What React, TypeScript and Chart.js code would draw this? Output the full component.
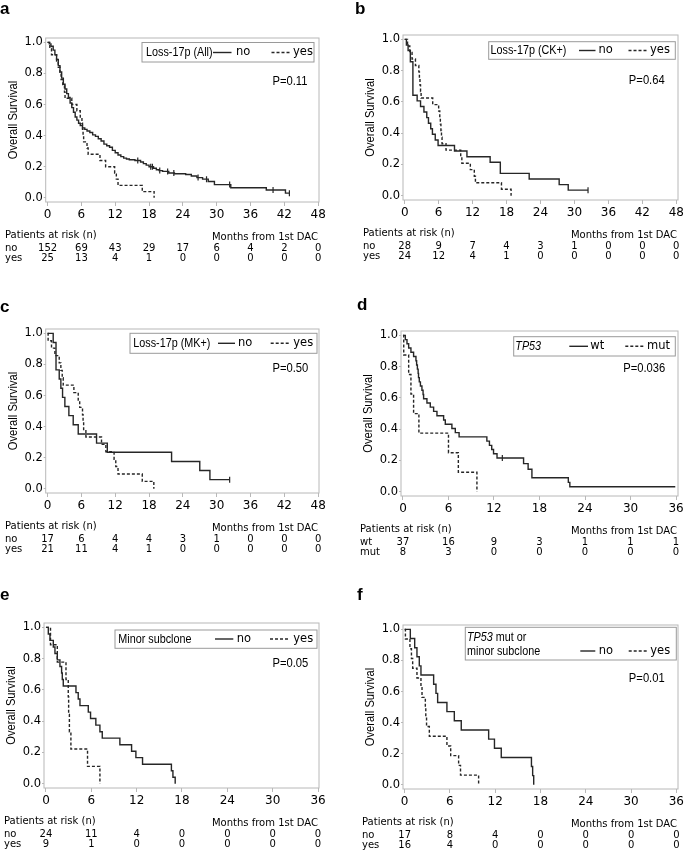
import React, { useEffect, useRef } from "react";
import { Chart, registerables } from "chart.js";
Chart.register(...registerables);

// ---------------- DATA ----------------
const ticks48 = [0, 6, 12, 18, 24, 30, 36, 42, 48];
const ticks36 = [0, 6, 12, 18, 24, 30, 36];
const yTicks = [0, 0.2, 0.4, 0.6, 0.8, 1.0];

// Panel a: Loss-17p (All)
const aNoT = [0, 0.3, 0.6, 1.0, 1.3, 1.6, 1.9, 2.2, 2.5, 2.8, 3.1, 3.4, 3.7, 4.0, 4.3, 4.6, 4.9, 5.2, 5.5, 5.8, 6.2, 6.6, 7.0, 7.5, 8.0, 8.5, 9.0, 9.5, 10.0, 10.5, 11.0, 11.5, 12.0, 12.5, 13.0, 13.5, 14.0, 14.5, 15.5, 16.5, 17.0, 17.5, 18.0, 18.8, 19.3, 19.8, 20.4, 21.5, 22.5, 24.5, 25.5, 26.5, 27.5, 28.5, 29.6, 32.5, 38.8, 42.2];
const aNoS = [1, 0.99, 0.975, 0.95, 0.92, 0.89, 0.85, 0.81, 0.77, 0.73, 0.70, 0.67, 0.645, 0.61, 0.58, 0.55, 0.52, 0.50, 0.48, 0.465, 0.45, 0.44, 0.43, 0.42, 0.405, 0.395, 0.38, 0.365, 0.345, 0.335, 0.325, 0.305, 0.29, 0.275, 0.265, 0.255, 0.25, 0.245, 0.24, 0.23, 0.22, 0.21, 0.20, 0.19, 0.18, 0.175, 0.17, 0.16, 0.155, 0.15, 0.14, 0.13, 0.12, 0.105, 0.085, 0.065, 0.05, 0.03];
const aNoEnd = 42.9;
const aNoCens = [16.0, 18.3, 18.6, 19.9, 21.3, 22.4, 26.7, 28.2, 32.3, 40.0, 42.9];
const aYesT = [0, 0.4, 0.7, 1.6, 1.9, 2.2, 2.4, 2.7, 3.0, 3.1, 4.3, 5.2, 5.8, 6.1, 6.2, 6.3, 6.4, 7.0, 7.2, 9.3, 10.3, 11.9, 12.2, 12.5, 16.8, 18.9];
const aYesS = [1, 0.96, 0.92, 0.88, 0.84, 0.80, 0.76, 0.72, 0.68, 0.64, 0.60, 0.56, 0.52, 0.48, 0.44, 0.40, 0.36, 0.32, 0.28, 0.24, 0.20, 0.16, 0.12, 0.08, 0.04, 0];
const aRiskNo = [152, 69, 43, 29, 17, 6, 4, 2, 0];
const aRiskYes = [25, 13, 4, 1, 0, 0, 0, 0, 0];

// Panel b: Loss-17p (CK+)
const bNoT = [0, 0.3, 0.6, 1.0, 1.45, 2.2, 2.8, 3.4, 3.9, 4.2, 4.6, 4.9, 5.4, 5.9, 8.8, 11.0, 15.1, 16.9, 22.0, 27.3, 28.9];
const bNoS = [1, 0.964, 0.929, 0.857, 0.643, 0.607, 0.571, 0.536, 0.5, 0.464, 0.429, 0.393, 0.357, 0.321, 0.286, 0.25, 0.214, 0.143, 0.107, 0.071, 0.036];
const bNoEnd = 32.4;
const bNoCens = [32.4];
const bYesT = [0, 0.5, 0.9, 1.3, 1.9, 2.5, 2.6, 2.7, 2.8, 2.9, 4.95, 6.0, 6.2, 6.3, 6.4, 6.5, 6.6, 7.3, 9.9, 10.1, 11.6, 12.3, 12.5, 17.1, 18.8];
const bYesS = [1, 0.958, 0.917, 0.875, 0.833, 0.792, 0.75, 0.708, 0.667, 0.625, 0.583, 0.542, 0.5, 0.458, 0.417, 0.375, 0.333, 0.292, 0.25, 0.208, 0.167, 0.125, 0.083, 0.042, 0];
const bRiskNo = [28, 9, 7, 4, 3, 1, 0, 0, 0];
const bRiskYes = [24, 12, 4, 1, 0, 0, 0, 0, 0];

// Panel c: Loss-17p (MK+)
const cNoT = [0, 1.0, 1.5, 2.07, 2.36, 2.66, 3.07, 3.78, 4.55, 5.44, 8.69, 10.6, 22.0, 27.0, 28.8];
const cNoS = [1, 0.941, 0.765, 0.706, 0.647, 0.588, 0.529, 0.471, 0.412, 0.353, 0.294, 0.235, 0.176, 0.118, 0.059];
const cNoEnd = 32.3;
const cNoCens = [32.3];
const cYesT = [0, 0.1, 0.7, 1.3, 2.07, 2.36, 2.6, 2.78, 4.67, 5.44, 5.7, 6.2, 6.3, 6.4, 6.8, 9.57, 10.34, 11.8, 12.1, 12.5, 16.8, 18.85];
const cYesS = [1, 0.952, 0.905, 0.857, 0.81, 0.762, 0.714, 0.667, 0.619, 0.571, 0.524, 0.476, 0.429, 0.381, 0.333, 0.286, 0.238, 0.19, 0.143, 0.095, 0.048, 0];
const cRiskNo = [17, 6, 4, 4, 3, 1, 0, 0, 0];
const cRiskYes = [21, 11, 4, 1, 0, 0, 0, 0, 0];

// Panel d: TP53 wt / mut
const dWtT = [0, 0.31, 0.53, 0.75, 1.05, 1.4, 1.71, 1.8, 1.9, 2.0, 2.05, 2.15, 2.3, 2.5, 2.65, 2.72, 3.16, 3.6, 4.04, 4.48, 5.36, 5.58, 6.45, 6.9, 7.4, 11.06, 11.4, 11.7, 11.94, 12.4, 15.9, 16.5, 17.0, 21.8, 22.0];
const dWtS = [1, 0.973, 0.946, 0.919, 0.892, 0.865, 0.838, 0.811, 0.784, 0.757, 0.730, 0.703, 0.676, 0.649, 0.622, 0.595, 0.568, 0.541, 0.514, 0.486, 0.459, 0.432, 0.405, 0.378, 0.351, 0.324, 0.297, 0.270, 0.243, 0.216, 0.180, 0.144, 0.09, 0.06, 0.032];
const dWtEnd = 35.9;
const dWtCens = [13.1];
const dMutT = [0, 0.1, 0.75, 1.05, 1.4, 2.1, 6.0, 7.3, 9.75];
const dMutS = [1, 0.875, 0.75, 0.625, 0.5, 0.375, 0.25, 0.125, 0];
const dRiskWt = [37, 16, 9, 3, 1, 1, 1];
const dRiskMut = [8, 3, 0, 0, 0, 0, 0];

// Panel e: Minor subclone
const eNoT = [0, 0.31, 0.53, 0.97, 1.19, 1.5, 1.85, 2.07, 2.16, 2.29, 3.97, 4.27, 4.5, 5.6, 5.9, 6.6, 7.14, 7.45, 9.78, 11.33, 11.9, 12.78, 16.6, 16.8, 17.1];
const eNoS = [1, 0.958, 0.917, 0.875, 0.833, 0.792, 0.75, 0.708, 0.667, 0.625, 0.583, 0.542, 0.5, 0.458, 0.417, 0.375, 0.333, 0.292, 0.25, 0.208, 0.167, 0.125, 0.083, 0.042, 0];
const eYesT = [0, 0.6, 1.5, 2.65, 2.95, 3.0, 3.1, 3.3, 5.5, 7.14];
const eYesS = [1, 0.889, 0.778, 0.667, 0.556, 0.444, 0.333, 0.222, 0.111, 0];
const eRiskNo = [24, 11, 4, 0, 0, 0, 0];
const eRiskYes = [9, 1, 0, 0, 0, 0, 0];

// Panel f: TP53 mut or minor subclone
const fNoT = [0, 0.75, 1.33, 1.63, 1.94, 2.16, 3.84, 4.15, 4.37, 5.6, 6.58, 7.5, 11.13, 11.9, 12.8, 16.8, 16.96, 17.1];
const fNoS = [1, 0.941, 0.882, 0.824, 0.765, 0.706, 0.647, 0.588, 0.529, 0.471, 0.412, 0.353, 0.294, 0.235, 0.176, 0.118, 0.059, 0];
const fYesT = [0, 0.1, 0.7, 0.9, 1.06, 1.63, 2.16, 2.3, 2.74, 2.8, 2.9, 3.27, 5.6, 6.1, 7.15, 7.4, 9.8];
const fYesS = [1, 0.9375, 0.875, 0.8125, 0.75, 0.6875, 0.625, 0.5625, 0.5, 0.4375, 0.375, 0.3125, 0.25, 0.1875, 0.125, 0.0625, 0];
const fRiskNo = [17, 8, 4, 0, 0, 0, 0];
const fRiskYes = [16, 4, 0, 0, 0, 0, 0];

// ---------------- STYLE / LAYOUT ----------------
const FONT_TICK = "'DejaVu Sans', sans-serif";
const FONT_ARIAL = "'Liberation Sans', Arial, sans-serif";
const NARROW = 0.83;
const FONT_RISK = "'DejaVu Sans', sans-serif";
const LINE = "#262626";
const FRAME = "#b8b8b8";
const YW = 30;
const XH = 24;

type Seg = { t: string; i?: boolean };
type Curve = { t: number[]; s: number[]; end: number; cens: number[]; dashed: boolean };
type Panel = {
  letter: string; letterX: number; letterY: number;
  canvas: { x: number; y: number; w: number; h: number };
  frame: { l: number; t: number; r: number; b: number };
  xMin: number; xMax: number; xTicks: number[];
  curves: Curve[];
  riskX: number; riskLabels: string[]; risk: number[][];
  legend: {
    box: number[]; title: Seg[][]; titleX: number; titleY: number[];
    solid: number[]; dashed: number[]; lab1X: number; lab2X: number; itemY: number;
    labels: string[];
  };
  p: { text: string; x: number; y: number };
};

const lastOf = (a: number[]) => a[a.length - 1];

const panels: Panel[] = [
  {
    letter: "a", letterX: 0, letterY: 13.5,
    canvas: { x: 0, y: 0, w: 340, h: 290 },
    frame: { l: 45.7, t: 38, r: 319, b: 202 },
    xMin: -0.33, xMax: 48.15, xTicks: ticks48,
    curves: [
      { t: aNoT, s: aNoS, end: aNoEnd, cens: aNoCens, dashed: false },
      { t: aYesT, s: aYesS, end: lastOf(aYesT), cens: [], dashed: true },
    ],
    riskX: 5, riskLabels: ["no", "yes"], risk: [aRiskNo, aRiskYes],
    legend: {
      box: [142, 42.5, 314, 62], title: [[{ t: "Loss-17p (All)" }]], titleX: 146, titleY: [52.5],
      solid: [213, 231.5], dashed: [271.5, 290], lab1X: 236, lab2X: 293, itemY: 52.5, labels: ["no", "yes"],
    },
    p: { text: "P=0.11", x: 307.5, y: 81 },
  },
  {
    letter: "b", letterX: 355, letterY: 13.5,
    canvas: { x: 342, y: 0, w: 356, h: 290 },
    frame: { l: 403, t: 35, r: 678, b: 200 },
    xMin: -0.3, xMax: 48.3, xTicks: ticks48,
    curves: [
      { t: bNoT, s: bNoS, end: bNoEnd, cens: bNoCens, dashed: false },
      { t: bYesT, s: bYesS, end: lastOf(bYesT), cens: [], dashed: true },
    ],
    riskX: 363, riskLabels: ["no", "yes"], risk: [bRiskNo, bRiskYes],
    legend: {
      box: [488.7, 41.7, 675.3, 59.3], title: [[{ t: "Loss-17p (CK+)" }]], titleX: 490.5, titleY: [50.5],
      solid: [579, 595.5], dashed: [628.5, 647], lab1X: 598.5, lab2X: 650, itemY: 50.5, labels: ["no", "yes"],
    },
    p: { text: "P=0.64", x: 664.7, y: 80 },
  },
  {
    letter: "c", letterX: 0, letterY: 311.5,
    canvas: { x: 0, y: 290, w: 340, h: 290 },
    frame: { l: 45.7, t: 329, r: 319, b: 493 },
    xMin: -0.33, xMax: 48.15, xTicks: ticks48,
    curves: [
      { t: cNoT, s: cNoS, end: cNoEnd, cens: cNoCens, dashed: false },
      { t: cYesT, s: cYesS, end: lastOf(cYesT), cens: [], dashed: true },
    ],
    riskX: 5, riskLabels: ["no", "yes"], risk: [cRiskNo, cRiskYes],
    legend: {
      box: [130, 333.3, 317, 353.3], title: [[{ t: "Loss-17p (MK+)" }]], titleX: 133.3, titleY: [343.3],
      solid: [218, 235], dashed: [270.7, 290], lab1X: 238, lab2X: 293.3, itemY: 343.3, labels: ["no", "yes"],
    },
    p: { text: "P=0.50", x: 308.3, y: 368.3 },
  },
  {
    letter: "d", letterX: 357, letterY: 310,
    canvas: { x: 342, y: 290, w: 356, h: 290 },
    frame: { l: 401, t: 331, r: 678, b: 496 },
    xMin: -0.26, xMax: 36.26, xTicks: ticks36,
    curves: [
      { t: dWtT, s: dWtS, end: dWtEnd, cens: dWtCens, dashed: false },
      { t: dMutT, s: dMutS, end: lastOf(dMutT), cens: [], dashed: true },
    ],
    riskX: 360, riskLabels: ["wt", "mut"], risk: [dRiskWt, dRiskMut],
    legend: {
      box: [513.7, 336.7, 675.3, 356], title: [[{ t: "TP53", i: true }]], titleX: 515.3, titleY: [346.3],
      solid: [569.3, 588], dashed: [625.3, 643.7], lab1X: 590.3, lab2X: 647, itemY: 346.3, labels: ["wt", "mut"],
    },
    p: { text: "P=0.036", x: 665.3, y: 368.3 },
  },
  {
    letter: "e", letterX: 0, letterY: 600,
    canvas: { x: 0, y: 580, w: 340, h: 272 },
    frame: { l: 44, t: 623, r: 319, b: 788 },
    xMin: -0.26, xMax: 36.13, xTicks: ticks36,
    curves: [
      { t: eNoT, s: eNoS, end: lastOf(eNoT), cens: [], dashed: false },
      { t: eYesT, s: eYesS, end: lastOf(eYesT), cens: [], dashed: true },
    ],
    riskX: 4, riskLabels: ["no", "yes"], risk: [eRiskNo, eRiskYes],
    legend: {
      box: [115, 630, 317, 648.3], title: [[{ t: "Minor subclone" }]], titleX: 118.3, titleY: [639],
      solid: [215, 233.3], dashed: [270, 290], lab1X: 236.7, lab2X: 293.3, itemY: 639, labels: ["no", "yes"],
    },
    p: { text: "P=0.05", x: 308.3, y: 663.3 },
  },
  {
    letter: "f", letterX: 357, letterY: 600,
    canvas: { x: 342, y: 580, w: 356, h: 272 },
    frame: { l: 403, t: 625, r: 678, b: 789 },
    xMin: -0.22, xMax: 36.22, xTicks: ticks36,
    curves: [
      { t: fNoT, s: fNoS, end: lastOf(fNoT), cens: [], dashed: false },
      { t: fYesT, s: fYesS, end: lastOf(fYesT), cens: [], dashed: true },
    ],
    riskX: 362, riskLabels: ["no", "yes"], risk: [fRiskNo, fRiskYes],
    legend: {
      box: [465.3, 627.3, 676.3, 660], title: [[{ t: "TP53", i: true }, { t: " mut or" }], [{ t: "minor subclone" }]],
      titleX: 467, titleY: [637.3, 651.7],
      solid: [580.3, 595.3], dashed: [628.7, 647], lab1X: 598.7, lab2X: 650.3, itemY: 651, labels: ["no", "yes"],
    },
    p: { text: "P=0.01", x: 664.7, y: 678.3 },
  },
];

function stepAt(t: number[], s: number[], x: number) {
  let v = s[0];
  for (let i = 0; i < t.length; i++) if (t[i] <= x) v = s[i];
  return v;
}

function curvePoints(c: Curve) {
  const pts = c.t.map((x, i) => ({ x, y: c.s[i] }));
  if (c.end > lastOf(c.t)) pts.push({ x: c.end, y: lastOf(c.s) });
  return pts;
}

// narrow (Arial-Narrow-like) text: horizontally condensed Liberation Sans
function narrowText(ctx: CanvasRenderingContext2D, text: string, x: number, y: number, size: number, align: "left" | "right" | "center", italic = false) {
  ctx.save();
  ctx.font = `${italic ? "italic " : ""}${size}px ${FONT_ARIAL}`;
  const w = ctx.measureText(text).width * NARROW;
  let x0 = x;
  if (align === "right") x0 = x - w;
  else if (align === "center") x0 = x - w / 2;
  ctx.translate(x0, y);
  ctx.scale(NARROW, 1);
  ctx.textAlign = "left";
  ctx.fillText(text, 0, 0);
  ctx.restore();
  return w;
}

function makePlugin(p: Panel) {
  return {
    id: "panelDecor" + p.letter,
    afterDraw(chart: any) {
      const ctx: CanvasRenderingContext2D = chart.ctx;
      const ox = p.canvas.x, oy = p.canvas.y;
      const ca = chart.chartArea;
      ctx.save();
      // frame
      ctx.strokeStyle = FRAME;
      ctx.lineWidth = 1;
      ctx.setLineDash([]);
      ctx.strokeRect(ca.left, ca.top, ca.right - ca.left, ca.bottom - ca.top);

      // panel letter
      ctx.fillStyle = "#000";
      ctx.font = `bold 17px ${FONT_ARIAL}`;
      ctx.textAlign = "left";
      ctx.textBaseline = "alphabetic";
      ctx.fillText(p.letter, p.letterX - ox, p.letterY - oy);

      // y title
      ctx.save();
      ctx.translate(ca.left - 32.5, (ca.top + ca.bottom) / 2);
      ctx.rotate(-Math.PI / 2);
      ctx.textBaseline = "middle";
      narrowText(ctx, "Overall Survival", 0, 0, 13.5, "center");
      ctx.restore();

      // legend
      const L = p.legend;
      ctx.fillStyle = "#fff";
      ctx.fillRect(L.box[0] - ox, L.box[1] - oy, L.box[2] - L.box[0], L.box[3] - L.box[1]);
      ctx.strokeStyle = "#9a9a9a";
      ctx.strokeRect(L.box[0] - ox, L.box[1] - oy, L.box[2] - L.box[0], L.box[3] - L.box[1]);
      ctx.fillStyle = "#000";
      ctx.textBaseline = "middle";
      L.title.forEach((line, li) => {
        let x = L.titleX - ox;
        line.forEach((seg) => {
          x += narrowText(ctx, seg.t, x, L.titleY[li] - oy, 13, "left", !!seg.i);
        });
      });
      ctx.strokeStyle = LINE;
      ctx.lineWidth = 1.4;
      ctx.beginPath();
      ctx.moveTo(L.solid[0] - ox, L.itemY - oy);
      ctx.lineTo(L.solid[1] - ox, L.itemY - oy);
      ctx.stroke();
      ctx.setLineDash([3, 2]);
      ctx.beginPath();
      ctx.moveTo(L.dashed[0] - ox, L.itemY - oy);
      ctx.lineTo(L.dashed[1] - ox, L.itemY - oy);
      ctx.stroke();
      ctx.setLineDash([]);
      ctx.font = `11.5px ${FONT_TICK}`;
      ctx.textAlign = "left";
      ctx.fillText(L.labels[0], L.lab1X - ox, L.itemY - oy);
      ctx.fillText(L.labels[1], L.lab2X - ox, L.itemY - oy);

      // p value
      narrowText(ctx, p.p.text, p.p.x - ox, p.p.y - oy, 13.5, "right");

      // risk table
      ctx.font = `10px ${FONT_RISK}`;
      ctx.textBaseline = "alphabetic";
      ctx.textAlign = "left";
      ctx.fillText("Patients at risk (n)", p.riskX - ox, ca.bottom + 35.5);
      ctx.textAlign = "right";
      ctx.fillText("Months from 1st DAC", ca.right - 1, ca.bottom + 37.5);
      const xs = chart.scales.x;
      p.risk.forEach((row, ri) => {
        const yy = ca.bottom + (ri === 0 ? 49 : 58.5);
        ctx.textAlign = "left";
        ctx.fillText(p.riskLabels[ri], p.riskX - ox, yy);
        ctx.textAlign = "center";
        row.forEach((v, i) => {
          ctx.fillText(String(v), xs.getPixelForValue(p.xTicks[i]), yy);
        });
      });
      ctx.restore();
    },
  };
}

function PanelChart({ p }: { p: Panel }) {
  const ref = useRef<HTMLCanvasElement | null>(null);
  useEffect(() => {
    if (!ref.current) return;
    const datasets: any[] = [];
    p.curves.forEach((c) => {
      datasets.push({
        data: curvePoints(c),
        stepped: "before",
        borderColor: LINE,
        borderWidth: 1.4,
        borderDash: c.dashed ? [3, 2] : [],
        pointRadius: 0,
        fill: false,
      });
      if (c.cens.length) {
        datasets.push({
          data: c.cens.map((x) => ({ x, y: stepAt(c.t, c.s, x) })),
          showLine: false,
          borderColor: LINE,
          pointStyle: "line",
          pointRotation: 90,
          pointRadius: 3,
          pointBorderWidth: 1.2,
          pointBorderColor: LINE,
        });
      }
    });
    const f = p.frame, cv = p.canvas;
    const chart = new Chart(ref.current, {
      type: "line",
      data: { datasets },
      options: {
        animation: false,
        responsive: false,
        maintainAspectRatio: false,
        events: [],
        layout: {
          padding: {
            left: f.l - cv.x - YW,
            top: f.t - cv.y,
            right: cv.x + cv.w - f.r,
            bottom: cv.y + cv.h - f.b - XH,
          },
        },
        plugins: { legend: { display: false }, tooltip: { enabled: false } },
        scales: {
          x: {
            type: "linear",
            min: p.xMin,
            max: p.xMax,
            afterBuildTicks: (s: any) => {
              s.ticks = p.xTicks.map((v) => ({ value: v }));
            },
            afterFit: (s: any) => {
              s.height = XH;
            },
            grid: { display: true, drawOnChartArea: false, drawTicks: true, tickLength: 4, color: FRAME },
            border: { display: false },
            ticks: {
              autoSkip: false,
              maxRotation: 0,
              padding: 2,
              color: "#000",
              font: { family: FONT_TICK, size: 12 },
              callback: (v: any) => String(v),
            },
          },
          y: {
            type: "linear",
            min: -0.027,
            max: 1.028,
            afterBuildTicks: (s: any) => {
              s.ticks = yTicks.map((v) => ({ value: v }));
            },
            afterFit: (s: any) => {
              s.width = YW;
            },
            grid: { display: true, drawOnChartArea: false, drawTicks: true, tickLength: 2, color: FRAME },
            border: { display: false },
            ticks: {
              padding: 1,
              color: "#000",
              font: { family: FONT_TICK, size: 11.5 },
              callback: (v: any) => Number(v).toFixed(1),
            },
          },
        },
      } as any,
      plugins: [makePlugin(p)],
    });
    return () => chart.destroy();
  }, [p]);
  return (
    <canvas
      ref={ref}
      width={p.canvas.w}
      height={p.canvas.h}
      style={{ position: "absolute", left: p.canvas.x, top: p.canvas.y, width: p.canvas.w, height: p.canvas.h }}
    />
  );
}

export default function App() {
  return (
    <div style={{ position: "absolute", left: 0, top: 0, width: 684, height: 852, overflow: "hidden", background: "#fff" }}>
      {panels.map((p) => (
        <PanelChart key={p.letter} p={p} />
      ))}
    </div>
  );
}
